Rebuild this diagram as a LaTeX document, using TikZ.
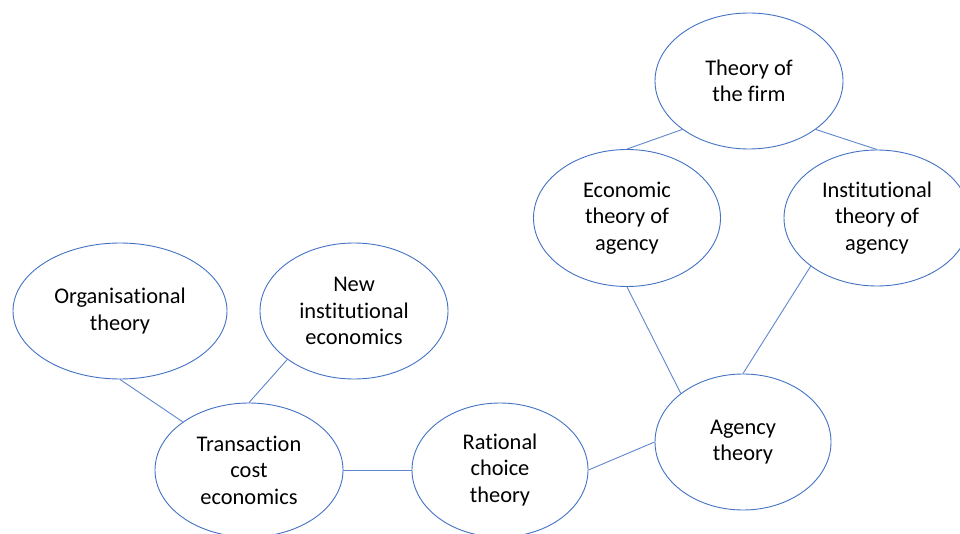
\documentclass[tikz,border=0pt]{standalone}
\usepackage{fontspec}
\setmainfont{Carlito}[Ligatures=NoCommon]
\usepackage{tikz}
\usetikzlibrary{shapes.geometric}
\definecolor{ppblue}{HTML}{4472C4}
\tikzset{
  theory/.style={ellipse,draw=ppblue,line width=.9pt,inner sep=0pt,
    minimum width=188pt,minimum height=136pt,align=center,
    font=\fontsize{22.4}{26.5}\selectfont,text=black},
  link/.style={draw=ppblue!85,line width=.9pt}
}
\begin{document}
\begin{tikzpicture}[x=1pt,y=-1pt]
\useasboundingbox[fill=white](0,0)rectangle(960,534);
%ellipses
\node[theory](firm)at(749,81){Theory of\\the firm};
\node[theory,minimum width=187pt,minimum height=137pt](econ)at(627,218){Economic\\theory of\\agency};
\node[theory,minimum width=186pt](inst)at(877,218){Institutional\\theory of\\agency};
\node[theory,minimum width=214pt](org)at(120,311){Organisational\\theory};
\node[theory](nie)at(354,311){New\\institutional\\economics};
\node[theory,minimum height=134pt](tce)at(249,470){Transaction\\cost\\economics};
\node[theory,minimum width=176pt,minimum height=134pt](rct)at(500,470){Rational\\choice\\theory};
\node[theory,minimum width=176pt](agency)at(743,442){Agency\\theory};
%links
\draw[link](firm.-144)--(econ.north);
\draw[link](firm.-36)--(inst.north);
\draw[link](econ.south)--(agency.142);
\draw[link](inst.-144)--(agency.north);
\draw[link](org.south)--(tce.144);
\draw[link](nie.-144)--(tce.north);
\draw[link](tce.east)--(rct.west);
\draw[link](rct.east)--(agency.west);
\end{tikzpicture}
\end{document}
